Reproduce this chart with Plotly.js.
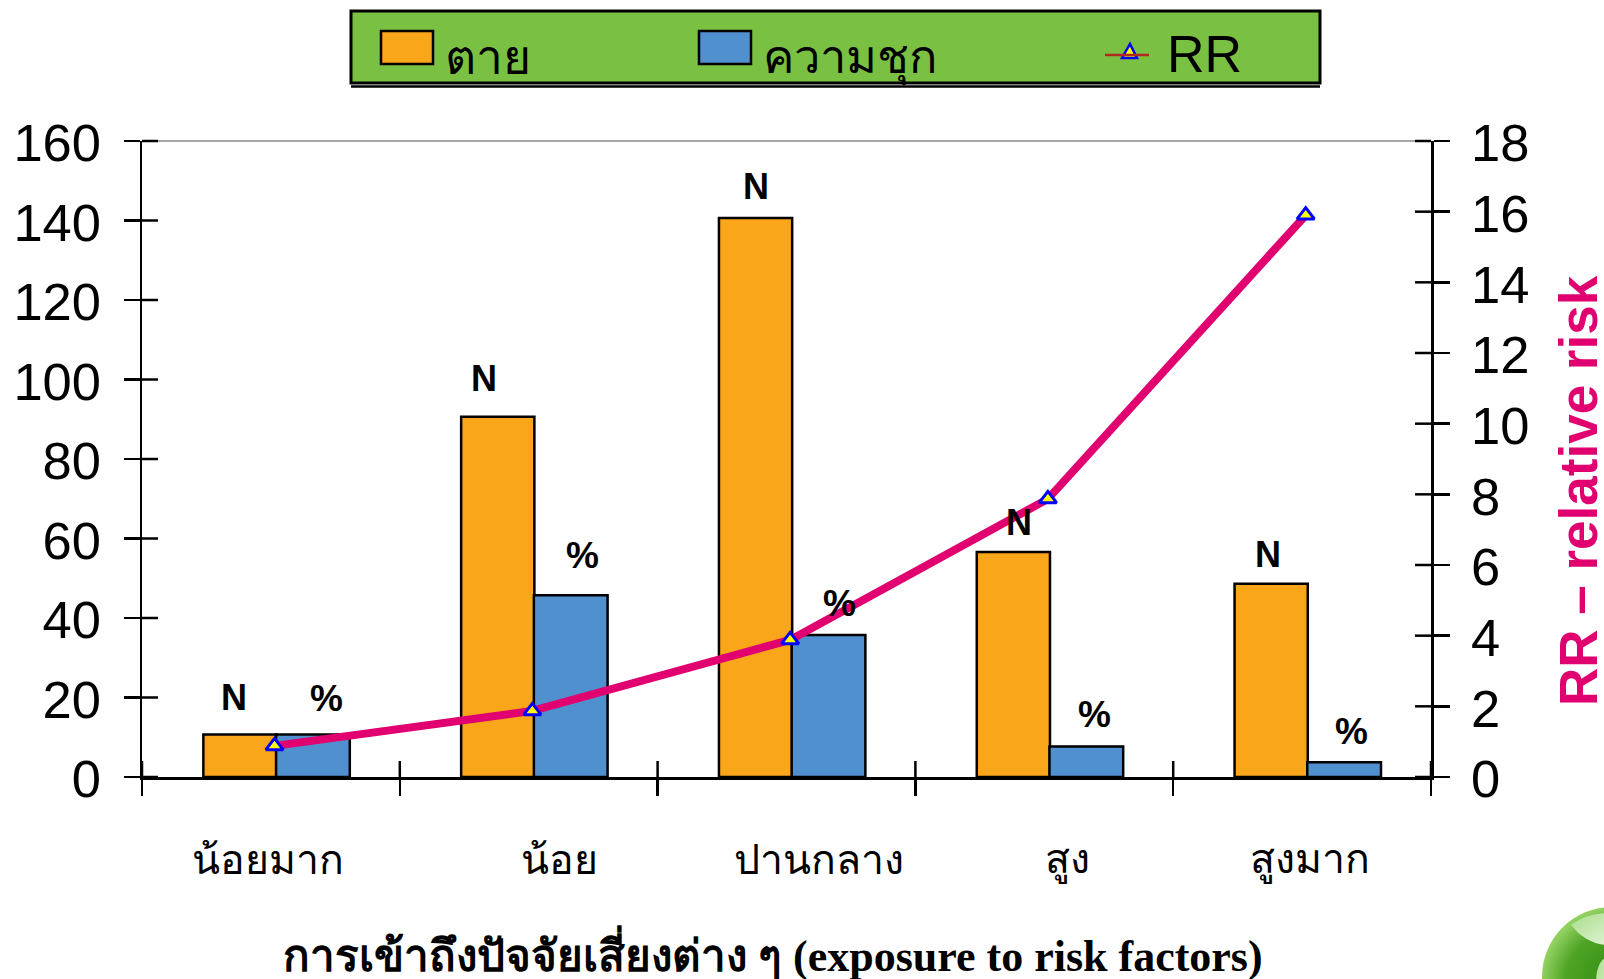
<!DOCTYPE html>
<html><head><meta charset="utf-8">
<script src="https://cdn.plot.ly/plotly-3.0.1.min.js"></script>
<style>html,body{margin:0;padding:0;background:#fff;overflow:hidden}#c{width:1604px;height:979px}</style>
</head><body><div id="c"></div>
<script>
const categories = ['น้อยมาก','น้อย','ปานกลาง','สูง','สูงมาก'];
const deaths = [10.7,90.6,140.6,56.6,48.6];
const prevalence = [10.7,45.7,35.7,7.7,3.7];
const rr = [0.88,1.87,3.88,7.87,15.9];
const leftTicks = [0,20,40,60,80,100,120,140,160];
const rightTicks = [0,2,4,6,8,10,12,14,16,18];

const W=1604,H=979,L=142,R=1431,T=141,B=777;
const px=x=>(x-L)/(R-L), py=y=>(B-y)/(B-T);
const sans='"Liberation Sans",Arial,sans-serif';
const serif='"Liberation Serif","DejaVu Serif",serif';
const ORANGE='#FAA61A',BLUE='#5090CE',GREEN='#7AC143',PINK='#E0006F';

const traces=[
 {type:'bar',name:'ตาย',x:categories,y:deaths,width:0.284,offset:-0.262,marker:{color:ORANGE,line:{color:'#000',width:2.5}},xaxis:'x',yaxis:'y'},
 {type:'bar',name:'ความชุก',x:categories,y:prevalence,width:0.286,offset:0.02,marker:{color:BLUE,line:{color:'#000',width:2.5}},xaxis:'x',yaxis:'y'},
 {type:'scatter',mode:'lines+markers',name:'RR',x:categories,y:rr,xaxis:'x2',yaxis:'y2',cliponaxis:false,
  line:{color:PINK,width:8},marker:{symbol:'triangle-up',size:15,color:'#FFFF00',line:{color:'#0000FF',width:3}}}
];

const shapes=[];
const line=(x0,y0,x1,y1,color,width,xref='paper',yref='paper')=>shapes.push({type:'line',xref,yref,x0,y0,x1,y1,line:{color,width}});
// top border
line(px(L),py(T),px(R),py(T),'#888',1.5);
// inward halves of crossing ticks
for(const v of leftTicks) line(px(L),v/160,px(L+16),v/160,'#000',2.5);
for(const v of rightTicks) line(px(R-16),v/18,px(R),v/18,'#000',2.5);
for(let i=0;i<=5;i++) line(i/5,py(B),i/5,py(B-16),'#000',2.5);
// legend box
shapes.push({type:'rect',xref:'paper',yref:'paper',x0:px(351),x1:px(1320),y0:py(83),y1:py(11),fillcolor:GREEN,line:{color:'#000',width:3}});
line(px(351),py(86.5),px(1320),py(86.5),'#000',2.5);
shapes.push({type:'rect',xref:'paper',yref:'paper',x0:px(381),x1:px(433),y0:py(64),y1:py(31),fillcolor:ORANGE,line:{color:'#000',width:2.5}});
shapes.push({type:'rect',xref:'paper',yref:'paper',x0:px(699),x1:px(751),y0:py(64),y1:py(31),fillcolor:BLUE,line:{color:'#000',width:2.5}});
// legend RR key: triangle then line
shapes.push({type:'path',xref:'paper',yref:'paper',path:`M ${px(1122)} ${py(58)} L ${px(1130)} ${py(44)} L ${px(1137)} ${py(58)} Z`,fillcolor:'#FFFF00',line:{color:'#0000FF',width:2.5}});
line(px(1105),py(55),px(1149),py(55),'#B22A1E',2.5);

const ann=(x,y,text,size,opts={})=>Object.assign({xref:'paper',yref:'paper',x:px(x),y:py(y),text,showarrow:false,xanchor:'center',yanchor:'middle',font:{family:sans,size,color:'#000'}},opts);
const annotations=[];
// category labels
const labelX=[268,559,819,1067,1310];
categories.forEach((c,i)=>annotations.push(ann(labelX[i],860,c,41)));
// N and % labels
[[234,697],[484,378],[756,186],[1019,522],[1268,554]].forEach(p=>annotations.push(ann(p[0],p[1],'N',36,{font:{family:sans,size:36,color:'#000',weight:700}})));
[[326,698],[582,555],[839,603],[1094,714],[1351,731]].forEach(p=>annotations.push(ann(p[0],p[1],'%',37,{font:{family:sans,size:37,color:'#000',weight:700}})));
// axis titles
annotations.push(ann(773,953,'การเข้าถึงปัจจัยเสี่ยงต่าง ๆ (exposure to risk factors)',44,{font:{family:serif,size:44,color:'#000',weight:700}}));
annotations.push(ann(1578,491,'RR – relative risk',53,{textangle:-90,font:{family:sans,size:53,color:PINK,weight:700}}));
// legend text
annotations.push(ann(443,58,'ตาย',48,{xanchor:'left'}));
annotations.push(ann(761,58,'ความชุก',47,{xanchor:'left'}));
annotations.push(ann(1165,54,'RR',52,{xanchor:'left'}));

const globe='data:image/svg+xml;utf8,'+encodeURIComponent(`<svg xmlns="http://www.w3.org/2000/svg" width="140" height="140" viewBox="0 0 140 140"><defs><radialGradient id="g" cx="55%" cy="55%" r="55%"><stop offset="0" stop-color="#2f8a12"/><stop offset="0.7" stop-color="#4ea424"/><stop offset="1" stop-color="#8fd05f"/></radialGradient><linearGradient id="l" x1="0" y1="0" x2="1" y2="1"><stop offset="0" stop-color="#a8dc88"/><stop offset="1" stop-color="#e6f6dc"/></linearGradient></defs><circle cx="70" cy="70" r="70" fill="url(#g)"/><path d="M29 18 C45 6 62 6 75 6 L75 38 C55 40 40 32 29 18Z" fill="url(#l)"/><path d="M64 50 C54 56 50 75 60 100 L75 100 L75 40Z" fill="url(#l)"/></svg>`);

const tf={family:sans,size:52.5,color:'#000'};
const layout={
 width:W,height:H,margin:{l:L,r:W-R,t:T,b:H-B,pad:0},paper_bgcolor:'#fff',plot_bgcolor:'#fff',showlegend:false,
 barmode:'overlay',
 xaxis:{type:'category',categories:categories,categoryorder:'array',categoryarray:categories,range:[-0.5,4.5],tickson:'boundaries',ticks:'outside',ticklen:16,tickwidth:2.5,tickcolor:'#000',showticklabels:false,showline:true,linecolor:'#000',linewidth:2.5,showgrid:false,zeroline:false,fixedrange:true},
 xaxis2:{type:'category',overlaying:'x',categoryorder:'array',categoryarray:categories,range:[-0.514,4.486],visible:false,fixedrange:true},
 yaxis:{range:[0,160],tickvals:leftTicks,ticks:'outside',ticklen:16,tickwidth:2.5,tickcolor:'#000',showline:true,linecolor:'#000',linewidth:2.5,showgrid:false,zeroline:false,tickfont:tf,ticklabelstandoff:12,ticklabelshift:2,fixedrange:true},
 yaxis2:{range:[0,18],tickvals:rightTicks,overlaying:'y',side:'right',ticks:'outside',ticklen:16,tickwidth:2.5,tickcolor:'#000',showline:true,linecolor:'#000',linewidth:2.5,showgrid:false,zeroline:false,tickfont:tf,ticklabelstandoff:11,ticklabelshift:2,fixedrange:true},
 shapes,annotations,
 images:[{source:globe,xref:'paper',yref:'paper',x:px(1542),y:py(907),sizex:140/(R-L),sizey:140/(B-T),sizing:'stretch',xanchor:'left',yanchor:'top',layer:'above'}]
};
Plotly.newPlot('c',traces,layout,{displayModeBar:false,staticPlot:true});
</script></body></html>
